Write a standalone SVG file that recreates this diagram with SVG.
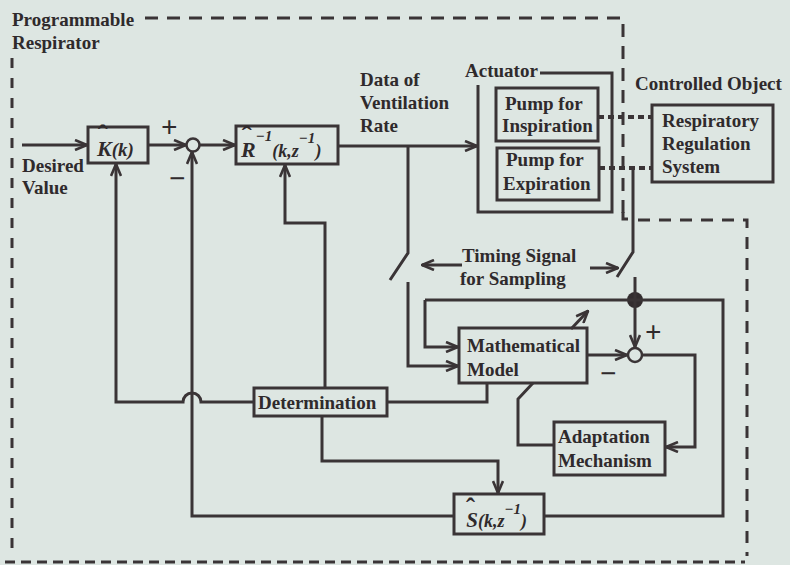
<svg xmlns="http://www.w3.org/2000/svg" width="790" height="565" viewBox="0 0 790 565">
<defs>
<style>
.t{font-family:"Liberation Serif","Times New Roman",serif;font-size:19px;font-weight:bold;fill:#2f2a2c}
.s{font-family:"Liberation Serif","Times New Roman",serif;font-size:29px;font-weight:bold;fill:#2f2a2c}
.m{font-family:"Liberation Serif","Times New Roman",serif;font-style:italic;font-weight:bold;fill:#2f2a2c}
.box{fill:none;stroke:#3a3436;stroke-width:3}
.ln{fill:none;stroke:#3a3436;stroke-width:3}
.dash{fill:none;stroke:#3a3436;stroke-width:3}
.dot{fill:none;stroke:#3a3436;stroke-width:4;stroke-dasharray:6 4}
</style>
<marker id="a" viewBox="0 0 14 12" refX="13" refY="6" markerWidth="14" markerHeight="12" markerUnits="userSpaceOnUse" orient="auto">
<path d="M1,1 L13,6 L1,11" fill="none" stroke="#3a3436" stroke-width="2.6"/>
</marker>
</defs>
<rect width="790" height="565" fill="#dde6e2"/>

<g id="borders">
<path class="dash" d="M145,18 H623 V218" stroke-dasharray="13 9"/>
<path class="dash" d="M638,220 H747 V556" stroke-dasharray="12 9"/>
<path class="dash" d="M623,212 V219 H628"/>
<path class="dash" d="M12,58 V556" stroke-dasharray="10 10"/>
<path class="dash" d="M5,562 H745" stroke-dasharray="10 6"/>
</g>

<g id="labels">
<text class="t" x="12" y="26">Programmable</text>
<text class="t" x="12" y="49">Respirator</text>
<text class="t" x="22" y="172">Desired</text>
<text class="t" x="22" y="194">Value</text>
<text class="s" x="161" y="137">+</text>
<text class="s" x="169" y="188">−</text>
<text class="t" x="360" y="86">Data of</text>
<text class="t" x="360" y="109">Ventilation</text>
<text class="t" x="360" y="132">Rate</text>
<text class="t" x="465" y="77">Actuator</text>
<text class="t" x="635" y="90">Controlled Object</text>
<text class="t" x="462" y="262">Timing Signal</text>
<text class="t" x="460" y="285">for Sampling</text>
<text class="s" x="645" y="342">+</text>
<text class="s" x="600" y="383">−</text>
</g>

<g id="node-k">
<rect class="box" x="88" y="127" width="60" height="36"/>
<text class="m" x="97" y="156" font-size="22">K<tspan dx="-14" dy="-11" font-size="30" font-style="normal">ˆ</tspan><tspan dx="4" dy="11" font-size="19">(k)</tspan></text>
</g>

<g id="node-sum1">
<circle cx="193" cy="145" r="6.5" fill="#dde6e2" stroke="#3a3436" stroke-width="2.5"/>
</g>

<g id="node-r">
<rect class="box" x="236" y="126" width="102" height="38"/>
<text class="m" x="241" y="157" font-size="22">R<tspan dx="-14" dy="-11" font-size="30" font-style="normal">ˆ</tspan><tspan font-size="15" dx="4" dy="-5">−1</tspan><tspan font-size="18" dy="16">(k,z</tspan><tspan font-size="15" dy="-14">−1</tspan><tspan font-size="18" dy="14">)</tspan></text>
</g>

<g id="node-actuator">
<path class="box" d="M540,73 H612 V212 H478 V85"/>
</g>

<g id="node-pump-in">
<rect class="box" x="496" y="88" width="102" height="53"/>
<text class="t" x="505" y="110">Pump for</text>
<text class="t" x="502" y="132">Inspiration</text>
</g>

<g id="node-pump-ex">
<rect class="box" x="497" y="148" width="102" height="52"/>
<text class="t" x="506" y="166">Pump for</text>
<text class="t" x="503" y="190">Expiration</text>
</g>

<g id="node-resp">
<rect class="box" x="652" y="105" width="121" height="77"/>
<text class="t" x="662" y="127">Respiratory</text>
<text class="t" x="662" y="150">Regulation</text>
<text class="t" x="662" y="173">System</text>
</g>

<g id="node-model">
<rect class="box" x="459" y="328" width="128" height="55"/>
<text class="t" x="467" y="352">Mathematical</text>
<text class="t" x="467" y="376">Model</text>
</g>

<g id="node-sum2">
<circle cx="635" cy="355" r="7" fill="#dde6e2" stroke="#3a3436" stroke-width="2.5"/>
</g>

<g id="node-junction">
<circle cx="635" cy="300" r="8" fill="#332d2f"/>
</g>

<g id="node-determination">
<rect class="box" x="254" y="388" width="133" height="28"/>
<text class="t" x="258" y="409">Determination</text>
</g>

<g id="node-adapt">
<rect class="box" x="554" y="422" width="111" height="53"/>
<text class="t" x="558" y="443">Adaptation</text>
<text class="t" x="558" y="467">Mechanism</text>
</g>

<g id="node-s">
<rect class="box" x="454" y="494" width="90" height="40"/>
<text class="m" x="466" y="527" font-size="21">S<tspan dx="-12" dy="-10" font-size="27" font-style="normal">ˆ</tspan><tspan font-size="18" dx="3" dy="10">(k,z</tspan><tspan font-size="15" dy="-13">−1</tspan><tspan font-size="18" dy="13">)</tspan></text>
</g>

<g id="connectors">
<path class="ln" d="M22,145 H87" marker-end="url(#a)"/>
<path class="ln" d="M148,145 H186" marker-end="url(#a)"/>
<path class="ln" d="M199.5,145 H235" marker-end="url(#a)"/>
<path class="ln" d="M338,146 H477" marker-end="url(#a)"/>
<path class="ln" d="M408,146 V253 L390,280"/>
<path class="ln" d="M408,282 V366 H458" marker-end="url(#a)"/>
<path class="ln" d="M462,265 H422" marker-end="url(#a)"/>
<path class="ln" d="M590,268 H618" marker-end="url(#a)"/>
<path class="dot" d="M598,117 H652"/>
<path class="dot" d="M599,168 H652"/>
<path class="ln" d="M633,168 V252 L617,277"/>
<path class="ln" d="M635,277 V300"/>
<path class="ln" d="M425,300 H723 V516 H544"/>
<path class="ln" d="M425,300 V347 H458" marker-end="url(#a)"/>
<path class="ln" d="M635,300 V347" marker-end="url(#a)"/>
<path class="ln" d="M587,355 H627" marker-end="url(#a)"/>
<path class="ln" d="M642,355 H695 V447 H666" marker-end="url(#a)"/>
<path class="ln" d="M571,329 L588,311" marker-end="url(#a)"/>
<path class="ln" d="M487,383 V402 H387"/>
<path class="ln" d="M533,383 L518,399 V445 H554"/>
<path class="ln" d="M254,402 H201 A9,9 0 0 0 183,402 H116 V164" marker-end="url(#a)"/>
<path class="ln" d="M325,388 V223 H285 V165" marker-end="url(#a)"/>
<path class="ln" d="M454,516 H192 V152" marker-end="url(#a)"/>
<path class="ln" d="M322,416 V461 H498 V493" marker-end="url(#a)"/>
</g>
</svg>
